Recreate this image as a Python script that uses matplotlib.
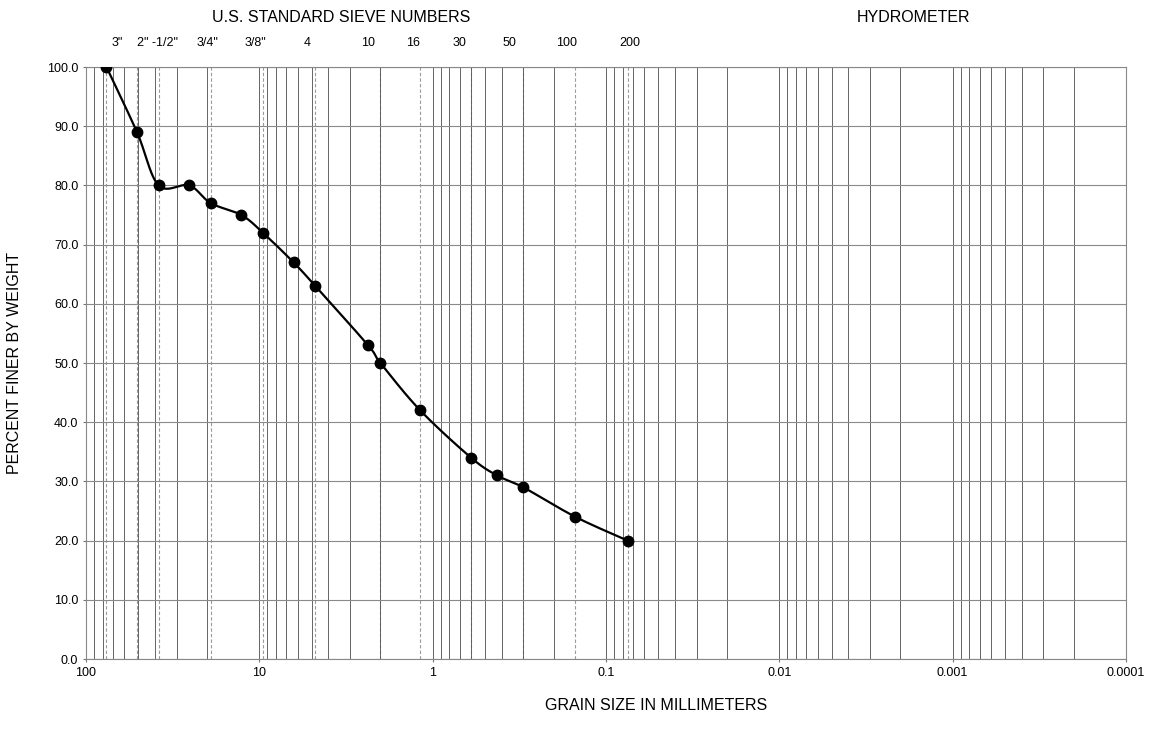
import numpy as np
import matplotlib
matplotlib.use("Agg")
import matplotlib.pyplot as plt
from matplotlib.ticker import FixedLocator, NullFormatter

plt.rcParams['font.family'] = ['Liberation Sans', 'DejaVu Sans']

# ---- data ----
grain_size_mm = [76.2, 50.8, 38.1, 25.4, 19.05, 12.7, 9.525, 6.35, 4.75,
                 2.36, 2.0, 1.18, 0.6, 0.425, 0.3, 0.15, 0.075]
percent_finer = [100.0, 89.0, 80.0, 80.0, 77.0, 75.0, 72.0, 67.0, 63.0,
                 53.0, 50.0, 42.0, 34.0, 31.0, 29.0, 24.0, 20.0]

sieve_sizes_mm = [76.2, 50.8, 38.1, 19.05, 9.525, 4.75, 2.0, 1.18, 0.6, 0.3, 0.15, 0.075]
sieve_labels = ['3"', '2" -1/2"', '3/4"', '3/8"', '4', '10', '16', '30', '50', '100', '200']
sieve_label_at_mm = [66.2, 38.9, 20.0, 10.6, 5.31, 2.37, 1.30, 0.697, 0.359, 0.168, 0.073]

x_ticks = [100, 10, 1, 0.1, 0.01, 0.001, 0.0001]
x_tick_labels = ["100", "10", "1", "0.1", "0.01", "0.001", "0.0001"]
y_ticks = [0, 10, 20, 30, 40, 50, 60, 70, 80, 90, 100]


fig = plt.figure(figsize=(11.52, 7.46), dpi=100)
ax = fig.add_axes([86 / 1152, 1 - 659 / 746, (1126 - 86) / 1152, (659 - 67) / 746])
ax.set_xscale("log")
ax.set_xlim(100, 0.0001)
ax.set_ylim(0, 100)

# grid
ax.xaxis.set_major_locator(FixedLocator(x_ticks))
minor = [k * 10.0 ** e for e in range(-4, 2) for k in range(2, 10)]
ax.xaxis.set_minor_locator(FixedLocator(minor))
ax.xaxis.set_minor_formatter(NullFormatter())
ax.set_xticklabels(x_tick_labels)
ax.set_yticks(y_ticks)
ax.set_yticklabels([f"{v:.1f}" for v in y_ticks])
ax.grid(True, which="major", axis="y", color="#8a8a8a", lw=0.8)
ax.grid(True, which="both", axis="x", color="#5a5a5a", lw=0.65)
for s in sieve_sizes_mm:
    ax.axvline(s, color="#9a9a9a", lw=0.8, ls=(0, (3, 2)), zorder=1)
ax.tick_params(axis="both", which="both", length=2, labelsize=9, color="#777777")
ax.tick_params(axis="x", which="minor", length=0)
for sp in ax.spines.values():
    sp.set_color("#888888"); sp.set_linewidth(0.8)

# smoothed curve (Catmull-Rom in display space, like a smoothed line)
fig.canvas.draw()
pts = ax.transData.transform(np.column_stack([grain_size_mm, percent_finer]))
P = np.vstack([pts[0], pts, pts[-1]])
curve = []
for i in range(1, len(P) - 2):
    p0, p1, p2, p3 = P[i - 1], P[i], P[i + 1], P[i + 2]
    c1 = p1 + (p2 - p0) / 6.0
    c2 = p2 - (p3 - p1) / 6.0
    t = np.linspace(0, 1, 30)[:, None]
    seg = ((1 - t) ** 3) * p1 + 3 * ((1 - t) ** 2) * t * c1 + 3 * (1 - t) * t ** 2 * c2 + t ** 3 * p2
    curve.append(seg)
curve = np.vstack(curve)
curve_data = ax.transData.inverted().transform(curve)
ax.plot(curve_data[:, 0], curve_data[:, 1], color="black", lw=1.6, zorder=3)
ax.plot(grain_size_mm, percent_finer, "o", color="black", ms=7.5, zorder=4)

# top sieve labels
for lab, pos in zip(sieve_labels, sieve_label_at_mm):
    ax.text(pos, 1.04, lab, transform=ax.get_xaxis_transform(), ha="center",
            va="center", fontsize=9)
fig.text(341 / 1152, 1 - 17 / 746, "U.S. STANDARD SIEVE NUMBERS", ha="center",
         va="center", fontsize=11.5)
fig.text(913 / 1152, 1 - 17 / 746, "HYDROMETER", ha="center", va="center", fontsize=11.5)
fig.text(15 / 1152, 1 - 363 / 746, "PERCENT FINER BY WEIGHT", rotation=90,
         ha="center", va="center", fontsize=11.5)
fig.text(656 / 1152, 1 - 705 / 746, "GRAIN SIZE IN MILLIMETERS", ha="center",
         va="center", fontsize=11.5)

fig.savefig("out.png", dpi=100)
